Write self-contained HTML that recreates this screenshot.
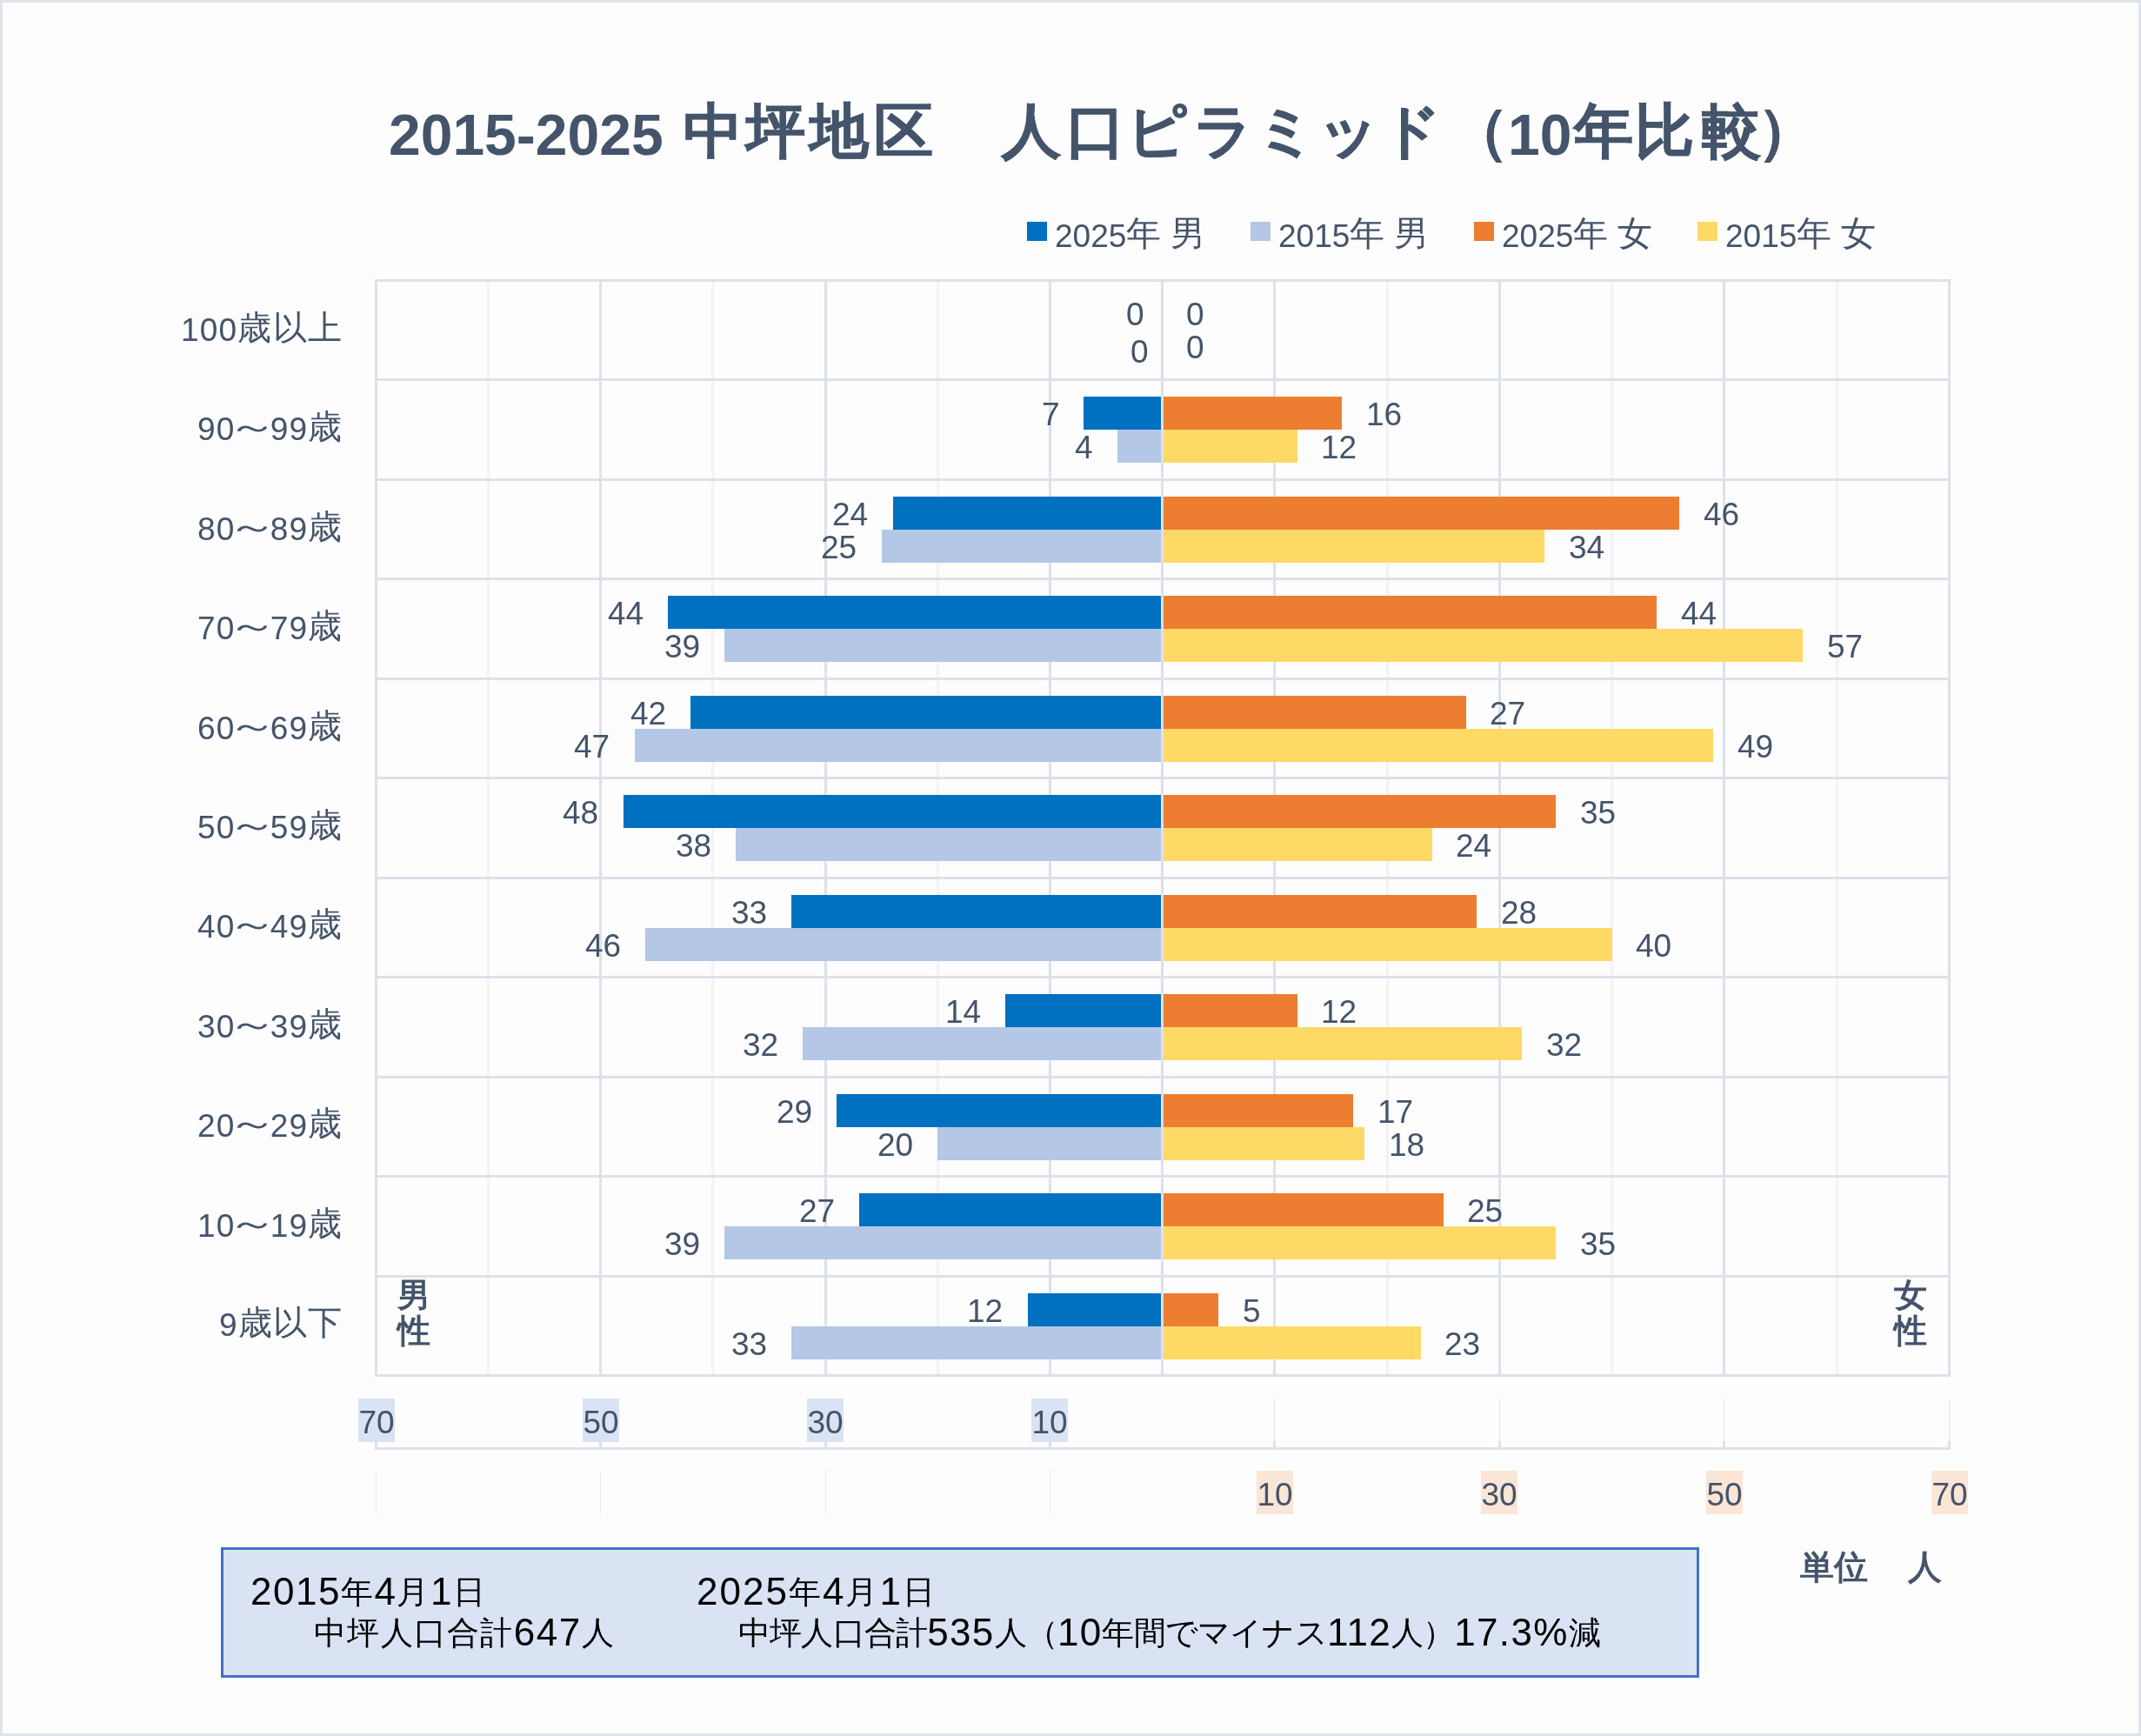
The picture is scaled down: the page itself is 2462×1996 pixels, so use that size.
<!DOCTYPE html>
<html><head><meta charset="utf-8"><style>
html,body{margin:0;padding:0;}
body{width:2462px;height:1996px;position:relative;overflow:hidden;background:#FDFDFE;font-family:"Liberation Sans",sans-serif;color:#44546A;}
.a{position:absolute;}
.t{position:absolute;white-space:nowrap;line-height:1;will-change:transform;}
.lb{position:absolute;white-space:nowrap;font-size:37px;line-height:38px;height:38px;will-change:transform;}
.tc{position:absolute;white-space:nowrap;line-height:1;will-change:transform;font-size:68px;font-weight:bold;width:100px;text-align:center;top:112px;-webkit-text-stroke:0.8px #44546A;}
.sq{display:inline-block;transform:scaleX(1.5);}
</style></head><body>
<div class="a" style="left:0;top:0;width:2456px;height:1990px;border:3px solid #DFE3EA;"></div>

<div id="tA" class="t" style="left:447px;top:122px;font-size:66px;font-weight:bold;">2015-2025</div>
<div id="tc0" class="tc" style="left:769.8px;top:115.5px;">中</div>
<div id="tc1" class="tc" style="left:841.7px;top:115.5px;">坪</div>
<div id="tc2" class="tc" style="left:914.9px;top:115.5px;">地</div>
<div id="tc3" class="tc" style="left:989.4px;top:115.5px;">区</div>
<div id="tc4" class="tc" style="left:1136.0px;top:115.5px;">人</div>
<div id="tc5" class="tc" style="left:1209.5px;top:115.5px;">口</div>
<div id="tc6" class="tc" style="left:1280.5px;top:115.5px;">ピ</div>
<div id="tc7" class="tc" style="left:1356.5px;top:115.5px;">ラ</div>
<div id="tc8" class="tc" style="left:1429.0px;top:115.5px;">ミ</div>
<div id="tc9" class="tc" style="left:1501.0px;top:115.5px;">ッ</div>
<div id="tc10" class="tc" style="left:1573.0px;top:115.5px;">ド</div>
<div id="tc11" class="tc" style="left:1651.0px;top:115.5px;">（</div>
<div id="tc12" class="tc" style="left:1793.5px;top:115.5px;">年</div>
<div id="tc13" class="tc" style="left:1864.3px;top:115.5px;">比</div>
<div id="tc14" class="tc" style="left:1940.5px;top:115.5px;">較</div>
<div id="tc15" class="tc" style="left:2005.0px;top:115.5px;">）</div>
<div id="t10" class="t" style="left:1733.5px;top:122px;font-size:66px;font-weight:bold;">10</div>

<div class="a" style="left:1181px;top:255px;width:23px;height:22px;background:#0070C0;"></div>
<div id="lg0" class="t" style="left:1213px;top:250px;font-size:37px;">2025<span style="font-size:40px;position:relative;top:-2.5px;">年</span> <span style="font-size:40px;position:relative;top:-2.5px;">男</span></div>

<div class="a" style="left:1438px;top:255px;width:23px;height:22px;background:#B4C7E7;"></div>
<div id="lg1" class="t" style="left:1470px;top:250px;font-size:37px;">2015<span style="font-size:40px;position:relative;top:-2.5px;">年</span> <span style="font-size:40px;position:relative;top:-2.5px;">男</span></div>

<div class="a" style="left:1695px;top:255px;width:23px;height:22px;background:#ED7D31;"></div>
<div id="lg2" class="t" style="left:1727px;top:250px;font-size:37px;">2025<span style="font-size:40px;position:relative;top:-2.5px;">年</span> <span style="font-size:40px;position:relative;top:-2.5px;">女</span></div>

<div class="a" style="left:1952px;top:255px;width:23px;height:22px;background:#FED966;"></div>
<div id="lg3" class="t" style="left:1984px;top:250px;font-size:37px;">2015<span style="font-size:40px;position:relative;top:-2.5px;">年</span> <span style="font-size:40px;position:relative;top:-2.5px;">女</span></div>

<div class="a" style="left:560px;top:322px;width:3px;height:1260px;background:#F2F3F6;"></div>
<div class="a" style="left:818px;top:322px;width:3px;height:1260px;background:#F2F3F6;"></div>
<div class="a" style="left:1077px;top:322px;width:3px;height:1260px;background:#F2F3F6;"></div>
<div class="a" style="left:1594px;top:322px;width:3px;height:1260px;background:#F2F3F6;"></div>
<div class="a" style="left:1852px;top:322px;width:3px;height:1260px;background:#F2F3F6;"></div>
<div class="a" style="left:2111px;top:322px;width:3px;height:1260px;background:#F2F3F6;"></div>
<div class="a" style="left:431px;top:321px;width:3px;height:1262px;background:#DDE2E9;"></div>
<div class="a" style="left:689px;top:321px;width:3px;height:1262px;background:#DDE2E9;"></div>
<div class="a" style="left:948px;top:321px;width:3px;height:1262px;background:#DDE2E9;"></div>
<div class="a" style="left:1206px;top:321px;width:3px;height:1262px;background:#DDE2E9;"></div>
<div class="a" style="left:1335px;top:321px;width:3px;height:1262px;background:#DDE2E9;"></div>
<div class="a" style="left:1464px;top:321px;width:3px;height:1262px;background:#DDE2E9;"></div>
<div class="a" style="left:1723px;top:321px;width:3px;height:1262px;background:#DDE2E9;"></div>
<div class="a" style="left:1981px;top:321px;width:3px;height:1262px;background:#DDE2E9;"></div>
<div class="a" style="left:2240px;top:321px;width:3px;height:1262px;background:#DDE2E9;"></div>
<div class="a" style="left:431px;top:321px;width:1812px;height:3px;background:#DDE2E9;"></div>
<div class="a" style="left:431px;top:435px;width:1812px;height:3px;background:#DDE2E9;"></div>
<div class="a" style="left:431px;top:550px;width:1812px;height:3px;background:#DDE2E9;"></div>
<div class="a" style="left:431px;top:664px;width:1812px;height:3px;background:#DDE2E9;"></div>
<div class="a" style="left:431px;top:779px;width:1812px;height:3px;background:#DDE2E9;"></div>
<div class="a" style="left:431px;top:893px;width:1812px;height:3px;background:#DDE2E9;"></div>
<div class="a" style="left:431px;top:1008px;width:1812px;height:3px;background:#DDE2E9;"></div>
<div class="a" style="left:431px;top:1122px;width:1812px;height:3px;background:#DDE2E9;"></div>
<div class="a" style="left:431px;top:1237px;width:1812px;height:3px;background:#DDE2E9;"></div>
<div class="a" style="left:431px;top:1351px;width:1812px;height:3px;background:#DDE2E9;"></div>
<div class="a" style="left:431px;top:1466px;width:1812px;height:3px;background:#DDE2E9;"></div>
<div class="a" style="left:431px;top:1580px;width:1812px;height:3px;background:#DDE2E9;"></div>


<div class="a" style="left:1246px;top:456px;width:90px;height:38px;background:#0070C0;"></div>
<div class="a" style="left:1285px;top:494px;width:51px;height:38px;background:#B4C7E7;"></div>
<div class="a" style="left:1337px;top:456px;width:206px;height:38px;background:#ED7D31;"></div>
<div class="a" style="left:1337px;top:494px;width:155px;height:38px;background:#FED966;"></div>
<div class="a" style="left:1027px;top:571px;width:309px;height:38px;background:#0070C0;"></div>
<div class="a" style="left:1014px;top:609px;width:322px;height:38px;background:#B4C7E7;"></div>
<div class="a" style="left:1337px;top:571px;width:594px;height:38px;background:#ED7D31;"></div>
<div class="a" style="left:1337px;top:609px;width:439px;height:38px;background:#FED966;"></div>
<div class="a" style="left:768px;top:685px;width:568px;height:38px;background:#0070C0;"></div>
<div class="a" style="left:833px;top:723px;width:503px;height:38px;background:#B4C7E7;"></div>
<div class="a" style="left:1337px;top:685px;width:568px;height:38px;background:#ED7D31;"></div>
<div class="a" style="left:1337px;top:723px;width:736px;height:38px;background:#FED966;"></div>
<div class="a" style="left:794px;top:800px;width:542px;height:38px;background:#0070C0;"></div>
<div class="a" style="left:730px;top:838px;width:606px;height:38px;background:#B4C7E7;"></div>
<div class="a" style="left:1337px;top:800px;width:349px;height:38px;background:#ED7D31;"></div>
<div class="a" style="left:1337px;top:838px;width:633px;height:38px;background:#FED966;"></div>
<div class="a" style="left:717px;top:914px;width:619px;height:38px;background:#0070C0;"></div>
<div class="a" style="left:846px;top:952px;width:490px;height:38px;background:#B4C7E7;"></div>
<div class="a" style="left:1337px;top:914px;width:452px;height:38px;background:#ED7D31;"></div>
<div class="a" style="left:1337px;top:952px;width:310px;height:38px;background:#FED966;"></div>
<div class="a" style="left:910px;top:1029px;width:426px;height:38px;background:#0070C0;"></div>
<div class="a" style="left:742px;top:1067px;width:594px;height:38px;background:#B4C7E7;"></div>
<div class="a" style="left:1337px;top:1029px;width:361px;height:38px;background:#ED7D31;"></div>
<div class="a" style="left:1337px;top:1067px;width:517px;height:38px;background:#FED966;"></div>
<div class="a" style="left:1156px;top:1143px;width:180px;height:38px;background:#0070C0;"></div>
<div class="a" style="left:923px;top:1181px;width:413px;height:38px;background:#B4C7E7;"></div>
<div class="a" style="left:1337px;top:1143px;width:155px;height:38px;background:#ED7D31;"></div>
<div class="a" style="left:1337px;top:1181px;width:413px;height:38px;background:#FED966;"></div>
<div class="a" style="left:962px;top:1258px;width:374px;height:38px;background:#0070C0;"></div>
<div class="a" style="left:1078px;top:1296px;width:258px;height:38px;background:#B4C7E7;"></div>
<div class="a" style="left:1337px;top:1258px;width:219px;height:38px;background:#ED7D31;"></div>
<div class="a" style="left:1337px;top:1296px;width:232px;height:38px;background:#FED966;"></div>
<div class="a" style="left:988px;top:1372px;width:348px;height:38px;background:#0070C0;"></div>
<div class="a" style="left:833px;top:1410px;width:503px;height:38px;background:#B4C7E7;"></div>
<div class="a" style="left:1337px;top:1372px;width:323px;height:38px;background:#ED7D31;"></div>
<div class="a" style="left:1337px;top:1410px;width:452px;height:38px;background:#FED966;"></div>
<div class="a" style="left:1182px;top:1487px;width:154px;height:38px;background:#0070C0;"></div>
<div class="a" style="left:910px;top:1525px;width:426px;height:38px;background:#B4C7E7;"></div>
<div class="a" style="left:1337px;top:1487px;width:64px;height:38px;background:#ED7D31;"></div>
<div class="a" style="left:1337px;top:1525px;width:297px;height:38px;background:#FED966;"></div>


<div class="a" style="left:1335px;top:321px;width:3px;height:1262px;background:#DDE2E9;"></div>
<div id="z0" class="lb" style="right:1146px;top:343px;text-align:right;">0</div>
<div id="z1" class="lb" style="right:1141px;top:386px;text-align:right;">0</div>
<div id="z2" class="lb" style="left:1364px;top:343px;">0</div>
<div id="z3" class="lb" style="left:1364px;top:381px;">0</div>
<div id="d1_0" class="lb" style="right:1243.90px;top:458.45px;text-align:right;">7</div>
<div id="d1_1" class="lb" style="right:1205.16px;top:496.45px;text-align:right;">4</div>
<div id="d1_2" class="lb" style="left:1570.86px;top:458.45px;">16</div>
<div id="d1_3" class="lb" style="left:1519.14px;top:496.45px;">12</div>
<div id="d2_0" class="lb" style="right:1463.44px;top:572.91px;text-align:right;">24</div>
<div id="d2_1" class="lb" style="right:1476.36px;top:610.91px;text-align:right;">25</div>
<div id="d2_2" class="lb" style="left:1958.71px;top:572.91px;">46</div>
<div id="d2_3" class="lb" style="left:1803.57px;top:610.91px;">34</div>
<div id="d3_0" class="lb" style="right:1721.73px;top:687.36px;text-align:right;">44</div>
<div id="d3_1" class="lb" style="right:1657.16px;top:725.36px;text-align:right;">39</div>
<div id="d3_2" class="lb" style="left:1932.86px;top:687.36px;">44</div>
<div id="d3_3" class="lb" style="left:2100.93px;top:725.36px;">57</div>
<div id="d4_0" class="lb" style="right:1695.90px;top:801.82px;text-align:right;">42</div>
<div id="d4_1" class="lb" style="right:1760.47px;top:839.82px;text-align:right;">47</div>
<div id="d4_2" class="lb" style="left:1713.07px;top:801.82px;">27</div>
<div id="d4_3" class="lb" style="left:1997.50px;top:839.82px;">49</div>
<div id="d5_0" class="lb" style="right:1773.39px;top:916.27px;text-align:right;">48</div>
<div id="d5_1" class="lb" style="right:1644.24px;top:954.27px;text-align:right;">38</div>
<div id="d5_2" class="lb" style="left:1816.50px;top:916.27px;">35</div>
<div id="d5_3" class="lb" style="left:1674.29px;top:954.27px;">24</div>
<div id="d6_0" class="lb" style="right:1579.67px;top:1030.73px;text-align:right;">33</div>
<div id="d6_1" class="lb" style="right:1747.56px;top:1068.73px;text-align:right;">46</div>
<div id="d6_2" class="lb" style="left:1726.00px;top:1030.73px;">28</div>
<div id="d6_3" class="lb" style="left:1881.14px;top:1068.73px;">40</div>
<div id="d7_0" class="lb" style="right:1334.30px;top:1145.18px;text-align:right;">14</div>
<div id="d7_1" class="lb" style="right:1566.76px;top:1183.18px;text-align:right;">32</div>
<div id="d7_2" class="lb" style="left:1519.14px;top:1145.18px;">12</div>
<div id="d7_3" class="lb" style="left:1777.71px;top:1183.18px;">32</div>
<div id="d8_0" class="lb" style="right:1528.01px;top:1259.64px;text-align:right;">29</div>
<div id="d8_1" class="lb" style="right:1411.79px;top:1297.64px;text-align:right;">20</div>
<div id="d8_2" class="lb" style="left:1583.79px;top:1259.64px;">17</div>
<div id="d8_3" class="lb" style="left:1596.71px;top:1297.64px;">18</div>
<div id="d9_0" class="lb" style="right:1502.19px;top:1374.09px;text-align:right;">27</div>
<div id="d9_1" class="lb" style="right:1657.16px;top:1412.09px;text-align:right;">39</div>
<div id="d9_2" class="lb" style="left:1687.21px;top:1374.09px;">25</div>
<div id="d9_3" class="lb" style="left:1816.50px;top:1412.09px;">35</div>
<div id="d10_0" class="lb" style="right:1308.47px;top:1488.55px;text-align:right;">12</div>
<div id="d10_1" class="lb" style="right:1579.67px;top:1526.55px;text-align:right;">33</div>
<div id="d10_2" class="lb" style="left:1428.64px;top:1488.55px;">5</div>
<div id="d10_3" class="lb" style="left:1661.36px;top:1526.55px;">23</div>


<div id="c0" class="lb" style="right:2067.8px;top:359.73px;text-align:right;letter-spacing:1.2px;">100<span style="font-size:39px;position:relative;top:-2px;">歳以上</span></div>
<div id="c1" class="lb" style="right:2067.8px;top:474.18px;text-align:right;letter-spacing:1.2px;">90<span style="font-size:39px;position:relative;top:-2px;"><span class="sq">～</span></span>99<span style="font-size:39px;position:relative;top:-2px;">歳</span></div>
<div id="c2" class="lb" style="right:2067.8px;top:588.64px;text-align:right;letter-spacing:1.2px;">80<span style="font-size:39px;position:relative;top:-2px;"><span class="sq">～</span></span>89<span style="font-size:39px;position:relative;top:-2px;">歳</span></div>
<div id="c3" class="lb" style="right:2067.8px;top:703.09px;text-align:right;letter-spacing:1.2px;">70<span style="font-size:39px;position:relative;top:-2px;"><span class="sq">～</span></span>79<span style="font-size:39px;position:relative;top:-2px;">歳</span></div>
<div id="c4" class="lb" style="right:2067.8px;top:817.55px;text-align:right;letter-spacing:1.2px;">60<span style="font-size:39px;position:relative;top:-2px;"><span class="sq">～</span></span>69<span style="font-size:39px;position:relative;top:-2px;">歳</span></div>
<div id="c5" class="lb" style="right:2067.8px;top:932.00px;text-align:right;letter-spacing:1.2px;">50<span style="font-size:39px;position:relative;top:-2px;"><span class="sq">～</span></span>59<span style="font-size:39px;position:relative;top:-2px;">歳</span></div>
<div id="c6" class="lb" style="right:2067.8px;top:1046.45px;text-align:right;letter-spacing:1.2px;">40<span style="font-size:39px;position:relative;top:-2px;"><span class="sq">～</span></span>49<span style="font-size:39px;position:relative;top:-2px;">歳</span></div>
<div id="c7" class="lb" style="right:2067.8px;top:1160.91px;text-align:right;letter-spacing:1.2px;">30<span style="font-size:39px;position:relative;top:-2px;"><span class="sq">～</span></span>39<span style="font-size:39px;position:relative;top:-2px;">歳</span></div>
<div id="c8" class="lb" style="right:2067.8px;top:1275.36px;text-align:right;letter-spacing:1.2px;">20<span style="font-size:39px;position:relative;top:-2px;"><span class="sq">～</span></span>29<span style="font-size:39px;position:relative;top:-2px;">歳</span></div>
<div id="c9" class="lb" style="right:2067.8px;top:1389.82px;text-align:right;letter-spacing:1.2px;">10<span style="font-size:39px;position:relative;top:-2px;"><span class="sq">～</span></span>19<span style="font-size:39px;position:relative;top:-2px;">歳</span></div>
<div id="c10" class="lb" style="right:2067.8px;top:1504.27px;text-align:right;letter-spacing:1.2px;">9<span style="font-size:39px;position:relative;top:-2px;">歳以下</span></div>


<div id="mA" class="t" style="left:457px;top:1470px;font-size:38px;font-weight:bold;">男</div>
<div id="mB" class="t" style="left:457px;top:1510.5px;font-size:38px;font-weight:bold;">性</div>
<div id="fA" class="t" style="left:2178px;top:1470px;font-size:38px;font-weight:bold;">女</div>
<div id="fB" class="t" style="left:2178px;top:1510.5px;font-size:38px;font-weight:bold;">性</div>
<div class="a" style="left:431px;top:1664px;width:1812px;height:3px;background:#DDE2E9;"></div>
<div class="a" style="left:431px;top:1657px;width:3px;height:8px;background:#DDE2E9;"></div>
<div class="a" style="left:689px;top:1657px;width:3px;height:8px;background:#DDE2E9;"></div>
<div class="a" style="left:948px;top:1657px;width:3px;height:8px;background:#DDE2E9;"></div>
<div class="a" style="left:1206px;top:1657px;width:3px;height:8px;background:#DDE2E9;"></div>
<div class="a" style="left:1464px;top:1657px;width:3px;height:8px;background:#DDE2E9;"></div>
<div class="a" style="left:1723px;top:1657px;width:3px;height:8px;background:#DDE2E9;"></div>
<div class="a" style="left:1981px;top:1657px;width:3px;height:8px;background:#DDE2E9;"></div>
<div class="a" style="left:2240px;top:1657px;width:3px;height:8px;background:#DDE2E9;"></div>
<div class="a" style="left:411.50px;top:1608px;width:42px;height:50px;background:#DAE3F3;"></div>
<div id="ax70" class="lb" style="left:411.50px;top:1616.5px;width:42px;text-align:center;">70</div>
<div class="a" style="left:669.79px;top:1608px;width:42px;height:50px;background:#DAE3F3;"></div>
<div id="ax50" class="lb" style="left:669.79px;top:1616.5px;width:42px;text-align:center;">50</div>
<div class="a" style="left:928.07px;top:1608px;width:42px;height:50px;background:#DAE3F3;"></div>
<div id="ax30" class="lb" style="left:928.07px;top:1616.5px;width:42px;text-align:center;">30</div>
<div class="a" style="left:1186.36px;top:1608px;width:42px;height:50px;background:#DAE3F3;"></div>
<div id="ax10" class="lb" style="left:1186.36px;top:1616.5px;width:42px;text-align:center;">10</div>
<div class="a" style="left:1465px;top:1608px;width:1px;height:50px;background:#DCE3F2;"></div>
<div class="a" style="left:1444.79px;top:1691px;width:42px;height:50px;background:#FBE5D6;"></div>
<div id="bx10" class="lb" style="left:1444.79px;top:1699.5px;width:42px;text-align:center;">10</div>
<div class="a" style="left:1724px;top:1608px;width:1px;height:50px;background:#DCE3F2;"></div>
<div class="a" style="left:1703.36px;top:1691px;width:42px;height:50px;background:#FBE5D6;"></div>
<div id="bx30" class="lb" style="left:1703.36px;top:1699.5px;width:42px;text-align:center;">30</div>
<div class="a" style="left:1982px;top:1608px;width:1px;height:50px;background:#DCE3F2;"></div>
<div class="a" style="left:1961.93px;top:1691px;width:42px;height:50px;background:#FBE5D6;"></div>
<div id="bx50" class="lb" style="left:1961.93px;top:1699.5px;width:42px;text-align:center;">50</div>
<div class="a" style="left:2241px;top:1608px;width:1px;height:50px;background:#DCE3F2;"></div>
<div class="a" style="left:2220.50px;top:1691px;width:42px;height:50px;background:#FBE5D6;"></div>
<div id="bx70" class="lb" style="left:2220.50px;top:1699.5px;width:42px;text-align:center;">70</div>
<div class="a" style="left:432px;top:1691px;width:1px;height:50px;background:#FBE5D6;"></div>
<div class="a" style="left:690px;top:1691px;width:1px;height:50px;background:#FBE5D6;"></div>
<div class="a" style="left:949px;top:1691px;width:1px;height:50px;background:#FBE5D6;"></div>
<div class="a" style="left:1207px;top:1691px;width:1px;height:50px;background:#FBE5D6;"></div>


<div class="a" style="left:254px;top:1779px;width:1694px;height:144px;background:#DAE3F3;border:3px solid #4472C4;"></div>
<div id="b0" class="t" style="left:287.5px;top:1808px;font-size:44px;letter-spacing:1.5px;color:#000;">2015<span style="font-size:37px;letter-spacing:1.5px;position:relative;top:-2px;">年</span>4<span style="font-size:37px;letter-spacing:1.5px;position:relative;top:-2px;">月</span>1<span style="font-size:37px;letter-spacing:1.5px;position:relative;top:-2px;">日</span></div>
<div id="b1" class="t" style="left:360.5px;top:1855px;font-size:44px;letter-spacing:1.5px;color:#000;"><span style="font-size:37px;letter-spacing:1.3px;position:relative;top:-2px;">中坪人口合計</span>647<span style="font-size:37px;letter-spacing:1.3px;position:relative;top:-2px;">人</span></div>
<div id="b2" class="t" style="left:800.5px;top:1808px;font-size:44px;letter-spacing:2.0px;color:#000;">2025<span style="font-size:37px;letter-spacing:2.0px;position:relative;top:-2px;">年</span>4<span style="font-size:37px;letter-spacing:2.0px;position:relative;top:-2px;">月</span>1<span style="font-size:37px;letter-spacing:2.0px;position:relative;top:-2px;">日</span></div>
<div id="b3" class="t" style="left:848.5px;top:1855px;font-size:44px;letter-spacing:1.3px;color:#000;"><span style="font-size:37px;letter-spacing:-0.8px;position:relative;top:-2px;">中坪人口合計</span>535<span style="font-size:37px;letter-spacing:-0.8px;position:relative;top:-2px;">人（</span>10<span style="font-size:37px;letter-spacing:-0.8px;position:relative;top:-2px;">年間でマイナス</span>112<span style="font-size:37px;letter-spacing:-0.8px;position:relative;top:-2px;">人）</span>17.3%<span style="font-size:37px;letter-spacing:-0.8px;position:relative;top:-2px;">減</span></div>
<div id="u0" class="t" style="left:2070px;top:1782px;font-size:39px;font-weight:bold;">単位</div>
<div id="u1" class="t" style="left:2194px;top:1782px;font-size:39px;font-weight:bold;">人</div>
</body></html>
